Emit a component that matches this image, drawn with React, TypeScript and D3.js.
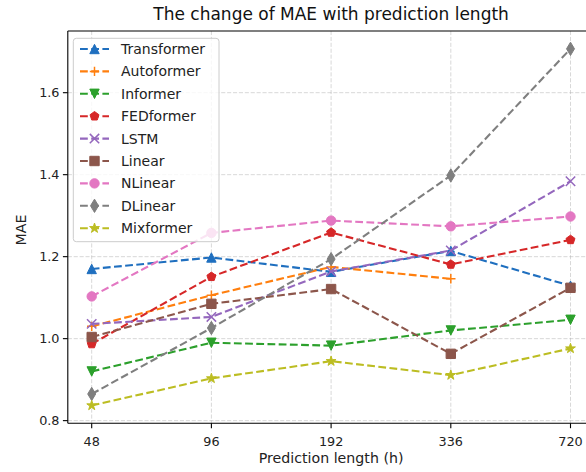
import * as d3 from "d3"

// prediction horizons (h) and MAE per model
const categories = ["48", "96", "192", "336", "720"]
const transformer = [1.17, 1.198, 1.163, 1.214, 1.129]
const autoformer = [1.03, 1.106, 1.175, 1.146, null]
const informer = [0.92, 0.99, 0.983, 1.02, 1.046]
const fedformer = [0.987, 1.151, 1.259, 1.181, 1.241]
const lstm = [1.036, 1.053, 1.164, 1.215, 1.384]
const linear = [1.004, 1.085, 1.121, 0.963, 1.124]
const nlinear = [1.103, 1.258, 1.288, 1.274, 1.298]
const dlinear = [0.865, 1.026, 1.194, 1.398, 1.707]
const mixformer = [0.837, 0.903, 0.945, 0.911, 0.976]
const yTicks = [0.8, 1.0, 1.2, 1.4, 1.6]

type Series = { name: string; values: (number | null)[]; color: string; marker: string }

const series: Series[] = [
  { name: "Transformer", values: transformer, color: "#1f6fbf", marker: "^" },
  { name: "Autoformer", values: autoformer, color: "#ff7f0e", marker: "+" },
  { name: "Informer", values: informer, color: "#2ca02c", marker: "v" },
  { name: "FEDformer", values: fedformer, color: "#d62728", marker: "p" },
  { name: "LSTM", values: lstm, color: "#9467bd", marker: "x" },
  { name: "Linear", values: linear, color: "#8c564b", marker: "s" },
  { name: "NLinear", values: nlinear, color: "#e377c2", marker: "o" },
  { name: "DLinear", values: dlinear, color: "#7f7f7f", marker: "d" },
  { name: "Mixformer", values: mixformer, color: "#bcbd22", marker: "*" },
]

const W = 586
const H = 472
const FONT = "DejaVu Sans, Verdana, sans-serif"
const MS = 9.4 // marker size in px

// matplotlib-ish marker shapes, centred on 0,0
function markerPath(shape: string, s: number) {
  const r = s / 2
  const poly = (pts: [number, number][]) => "M" + pts.map((p) => p.join(",")).join("L") + "Z"
  switch (shape) {
    case "^":
      return poly([[0, -r], [r, r], [-r, r]])
    case "v":
      return poly([[0, r], [r, -r], [-r, -r]])
    case "s":
      return poly([[-r, -r], [r, -r], [r, r], [-r, r]])
    case "o": {
      const p = d3.path()
      p.arc(0, 0, r, 0, Math.PI * 2)
      return p.toString()
    }
    case "p":
      return poly(d3.range(5).map((k) => {
        const a = -Math.PI / 2 + (k * 2 * Math.PI) / 5
        return [r * Math.cos(a), r * Math.sin(a)] as [number, number]
      }))
    case "d": {
      const h = s * 0.707
      return poly([[0, -h], [h * 0.6, 0], [0, h], [-h * 0.6, 0]])
    }
    case "*":
      return poly(d3.range(10).map((k) => {
        const a = -Math.PI / 2 + (k * Math.PI) / 5
        const rr = k % 2 === 0 ? r * 1.1 : r * 1.1 * 0.382
        return [rr * Math.cos(a), rr * Math.sin(a)] as [number, number]
      }))
    case "+":
      return `M${-r},0H${r}M0,${-r}V${r}`
    case "x":
      return `M${-r},${-r}L${r},${r}M${-r},${r}L${r},${-r}`
    default:
      return ""
  }
}

function Marker({ s, x, y }: { s: Series; x: number; y: number }) {
  const open = s.marker === "+" || s.marker === "x"
  return (
    <path
      d={markerPath(s.marker, MS)}
      transform={`translate(${x},${y})`}
      fill={open ? "none" : s.color}
      stroke={s.color}
      strokeWidth={open ? 1.5 : 1}
      strokeLinejoin="miter"
    />
  )
}

export default function App() {
  const left = 67.8
  const right = 594.4
  const top = 31
  const bottom = 423.3

  const x = d3.scalePoint<string>().domain(categories).range([91.7, 570.5])

  const all = series.flatMap((s) => s.values).filter((v): v is number => v != null)
  const [lo, hi] = d3.extent(all) as [number, number]
  const pad = (hi - lo) * 0.05
  const y = d3.scaleLinear().domain([lo - pad, hi + pad]).range([bottom, top])

  const line = d3
    .line<number | null>()
    .defined((d) => d != null)
    .x((_, i) => x(categories[i]) ?? 0)
    .y((d) => y(d as number))

  const legendX = 73.3
  const legendY = 38.3
  const rowH = 22.4

  return (
    <svg
      width={W}
      height={H}
      viewBox={`0 0 ${W} ${H}`}
      style={{ position: "absolute", left: 0, top: 0, background: "#fff" }}
      fontFamily={FONT}
    >
      <rect width={W} height={H} fill="#fff" />

      {/* grid */}
      <g stroke="#b0b0b0" strokeOpacity={0.55} strokeWidth={0.9} strokeDasharray="4.1,1.8">
        {categories.map((c) => (
          <line key={c} x1={x(c)} x2={x(c)} y1={top} y2={bottom} />
        ))}
        {yTicks.map((t) => (
          <line key={t} x1={left} x2={right} y1={y(t)} y2={y(t)} />
        ))}
      </g>

      {/* series */}
      {series.map((s) => (
        <g key={s.name}>
          <path
            d={line(s.values) ?? ""}
            fill="none"
            stroke={s.color}
            strokeWidth={2.1}
            strokeDasharray="7.8,3.4"
          />
          {s.values.map((v, i) =>
            v == null ? null : <Marker key={i} s={s} x={x(categories[i]) ?? 0} y={y(v)} />
          )}
        </g>
      ))}

      {/* spines */}
      <g stroke="#000" strokeWidth={1.1} fill="none">
        <line x1={left} x2={left} y1={top} y2={bottom} />
        <line x1={left} x2={right} y1={bottom} y2={bottom} />
        <line x1={left} x2={right} y1={top} y2={top} />
        <line x1={right} x2={right} y1={top} y2={bottom} />
      </g>

      {/* y axis */}
      {yTicks.map((t) => (
        <g key={t}>
          <line x1={left - 4.9} x2={left} y1={y(t)} y2={y(t)} stroke="#000" strokeWidth={1.1} />
          <text x={59.5} y={y(t)} textAnchor="end" dominantBaseline="central" fontSize={12.8} fill="#222">
            {t.toFixed(1)}
          </text>
        </g>
      ))}

      {/* x axis */}
      {categories.map((c) => (
        <g key={c}>
          <line x1={x(c)} x2={x(c)} y1={bottom} y2={bottom + 4.9} stroke="#000" strokeWidth={1.1} />
          <text x={x(c)} y={446.3} textAnchor="middle" fontSize={12.8} fill="#222">
            {c}
          </text>
        </g>
      ))}

      <text x={(left + right) / 2} y={463.3} textAnchor="middle" fontSize={14.2} fill="#222">
        Prediction length (h)
      </text>
      <text transform="translate(26,230) rotate(-90)" textAnchor="middle" fontSize={14.2} fill="#222">
        MAE
      </text>
      <text x={(left + right) / 2} y={20} textAnchor="middle" fontSize={17} fill="#111">
        The change of MAE with prediction length
      </text>

      {/* legend */}
      <g>
        <rect
          x={legendX}
          y={legendY}
          width={219 - legendX}
          height={241.7 - legendY}
          rx={3}
          fill="#fff"
          fillOpacity={0.8}
          stroke="#cccccc"
          strokeWidth={1}
        />
        {series.map((s, i) => {
          const cy = 49 + i * rowH
          return (
            <g key={s.name}>
              <line
                x1={80}
                x2={109}
                y1={cy}
                y2={cy}
                stroke={s.color}
                strokeWidth={2.1}
                strokeDasharray="7.8,3.4"
              />
              <Marker s={s} x={94.5} y={cy} />
              <text x={121} y={cy} dominantBaseline="central" fontSize={14} fill="#222">
                {s.name}
              </text>
            </g>
          )
        })}
      </g>
    </svg>
  )
}
